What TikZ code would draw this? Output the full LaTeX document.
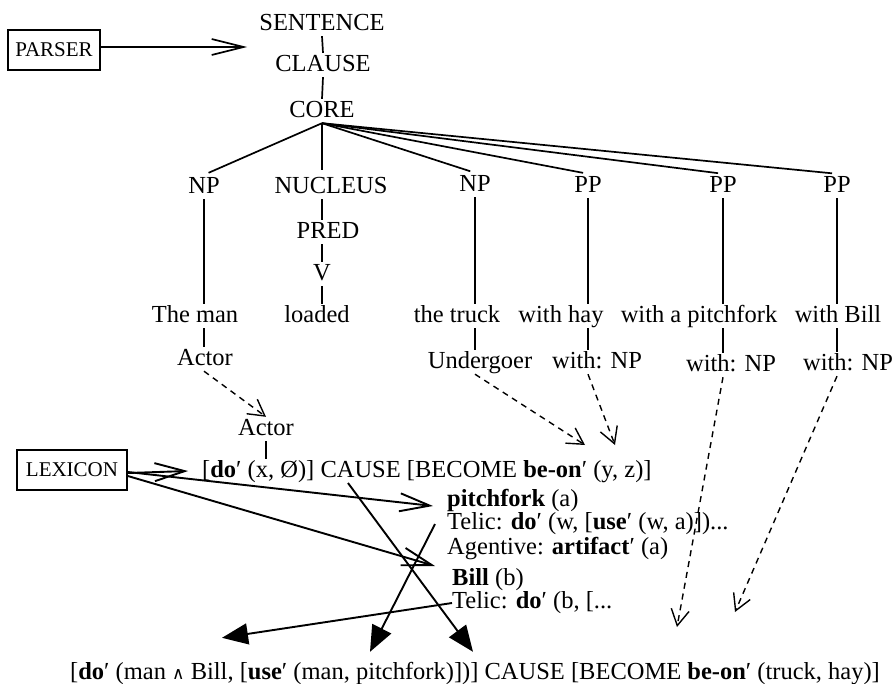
\documentclass[tikz,border=0pt]{standalone}
\usepackage{fontspec}
\setmainfont{Liberation Serif}
\newfontfamily\symfont{DejaVu Serif}
\usetikzlibrary{arrows.meta}
\begin{document}
\begin{tikzpicture}[x=1pt,y=-1pt,
  every node/.style={font=\fontsize{24.5}{28}\selectfont},
  lbl/.style={inner xsep=0pt, inner ysep=2pt, text height=16pt, text depth=4pt, anchor=base},
  lblw/.style={lbl, anchor=base west},
  entry/.style={inner xsep=0pt, inner ysep=0pt, text height=15pt, text depth=5pt, anchor=base west},
  branch/.style={line width=1.7pt},
  link/.style={line width=1.4pt, dash pattern=on 6pt off 5pt,
    -{Straight Barb[length=16pt,width=18pt,line width=1.4pt]}},
  feed/.style={line width=1.9pt, -{Straight Barb[length=30pt,width=18pt]}},
  merge/.style={line width=1.9pt, -{Triangle[length=26pt,width=21pt]}},
  module/.style={draw, line width=1.6pt, font=\fontsize{21}{24}\selectfont,
    inner sep=0pt, minimum height=40pt}
]
\useasboundingbox (0,0) rectangle (894,683);

% --- modules
\node[module, minimum width=92pt] (parser) at (54,50) {PARSER};
\node[module, minimum width=110pt] (lexicon) at (72,470) {LEXICON};

% --- layered structure of the clause
\node[lbl] (sentence) at (322,30) {SENTENCE};
\node[lbl] (clause)   at (323,71) {CLAUSE};
\node[lbl] (core)     at (322,117) {CORE};
\node[lbl] (np1)      at (204,193) {NP};
\node[lbl] (nucleus)  at (331,193) {NUCLEUS};
\node[lbl] (np2)      at (475,191) {NP};
\node[lbl] (pp1)      at (588,192) {PP};
\node[lbl] (pp2)      at (723,192) {PP};
\node[lbl] (pp3)      at (837,192) {PP};
\node[lbl] (pred)     at (328,238) {PRED};
\node[lbl] (v)        at (322,280) {V};
\node[lbl] (theman)   at (195,322) {The man};
\node[lbl] (loaded)   at (317,322) {loaded};
\node[lbl] (truck)    at (457,322) {the truck};
\node[lbl] (withhay)  at (561,322) {with hay};
\node[lbl] (withpf)   at (699,322) {with a pitchfork};
\node[lbl] (withbill) at (838,322) {with Bill};
\node[lbl] (actor)    at (205,365) {Actor};
\node[lbl] (undergoer) at (480,368) {Undergoer};
\node[lbl] (wnp1)     at (597,368) {with: NP};
\node[lbl] (wnp2)     at (731,371) {with: NP};
\node[lbl] (wnp3)     at (848,370) {with: NP};

% --- logical structures
\node[lbl] (actor2) at (266,435) {Actor};
\node[lblw] (formula) at (202,477)
  {[\textbf{do}′ (x, Ø)] CAUSE [BECOME \textbf{be-on}′ (y, z)]};
\node[entry] (pf1) at (447,506) {\textbf{pitchfork} (a)};
\node[entry] (pf2) at (447,529) {Telic: \textbf{do}′ (w, [\textbf{use}′ (w, a)])...};
\node[entry] (pf3) at (447,554) {Agentive: \textbf{artifact}′ (a)};
\node[entry] (bill1) at (452,585) {\textbf{Bill} (b)};
\node[entry] (bill2) at (452,608) {Telic: \textbf{do}′ (b, [...};
\node[lblw] (result) at (70,679)
  {[\textbf{do}′ (man {\symfont\fontsize{17}{20}\selectfont ∧} Bill, [\textbf{use}′ (man, pitchfork)])] CAUSE [BECOME \textbf{be-on}′ (truck, hay)]};

% --- argument slots in the logical structure and free ends
\coordinate (yslot) at (585,445);
\coordinate (zslot) at (615,445);
\coordinate (endA) at (677,627);
\coordinate (endB) at (735,612);
\coordinate (causept) at (348,483);

% --- tree branches
\draw[branch] (sentence.south) -- (clause.north);
\draw[branch] (clause.south) -- (core.north);
\foreach \n in {np1,np2,pp1,pp2,pp3}
  \draw[branch, shorten >=5pt] (core.south) -- (\n.north);
\draw[branch, shorten >=5pt] (core.south) -- (core.south |- nucleus.north);
\draw[branch] (nucleus.south -| v.north) -- (pred.north -| v.north);
\draw[branch] (pred.south -| v.north) -- (v.north);
\draw[branch] (v.south) -- (v.south |- loaded.north);
\draw[branch] (np1.south) -- (np1.south |- theman.north);
\draw[branch] (theman.south -| np1.south) -- (actor.north -| np1.south);
\draw[branch] (np2.south) -- (np2.south |- truck.north);
\draw[branch] (truck.south -| np2.south) -- (undergoer.north -| np2.south);
\draw[branch] (pp1.south) -- (pp1.south |- withhay.north);
\draw[branch] (withhay.south -| pp1.south) -- (wnp1.north -| pp1.south);
\draw[branch] (pp2.south) -- (pp2.south |- withpf.north);
\draw[branch] (withpf.south -| pp2.south) -- (wnp2.north -| pp2.south);
\draw[branch] (pp3.south) -- (pp3.south |- withbill.north);
\draw[branch] (withbill.south -| pp3.south) -- (wnp3.north -| pp3.south);
\draw[branch] (actor2.south) -- (actor2.south |- formula.north);

% --- linking (dashed)
\draw[link] (actor.south -| np1.south) -- (actor2.north);
\draw[link] (undergoer.south -| np2.south) -- (yslot);
\draw[link] (wnp1.south -| pp1.south) -- (zslot);
\draw[link] (wnp2.south -| pp2.south) -- (endA);
\draw[link] (wnp3.south -| pp3.south) -- (endB);

% --- parser and lexicon input
\draw[branch, -{Straight Barb[length=32pt,width=16pt]}]
  ([yshift=3pt]parser.east) -- ([xshift=-12pt, yshift=-23pt]sentence.west);
\draw[feed] ([yshift=-3pt]lexicon.east) -- ([xshift=-14pt]formula.west);
\draw[feed] ([yshift=-2pt]lexicon.east) -- ([xshift=-14pt, yshift=-5pt]pf1.west);
\draw[feed] ([yshift=-6pt]lexicon.east) -- ([xshift=-17pt, yshift=14pt]bill1.west);

% --- merging into the semantic representation
\draw[merge] (causept) -- ([xshift=403pt, yshift=9pt]result.north west);
\draw[merge] ([xshift=-12pt]pf2.west) -- ([xshift=300pt, yshift=9pt]result.north west);
\draw[merge] (bill2.west) -- ([xshift=152pt, yshift=23pt]result.north west);
\end{tikzpicture}
\end{document}
